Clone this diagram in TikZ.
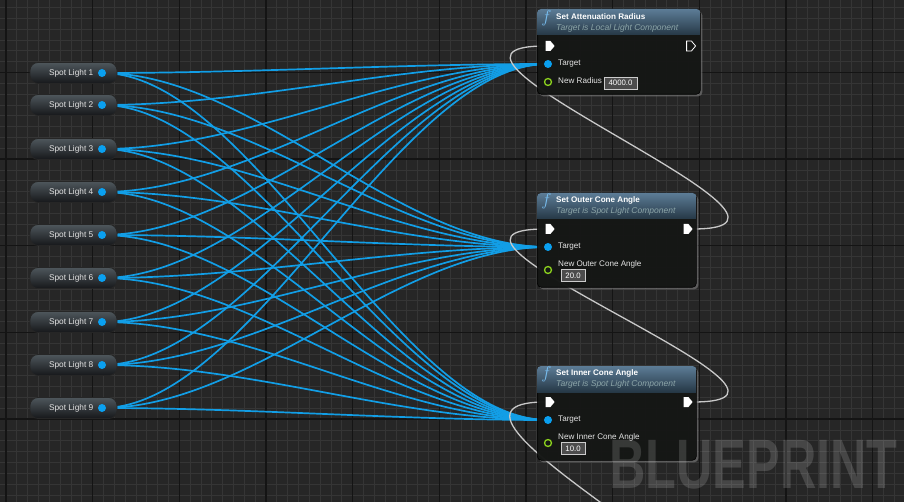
\documentclass[tikz,border=0pt]{standalone}
\usepackage{fontspec}
\setmainfont{Liberation Sans}
\usepackage{tikz}
\usetikzlibrary{shapes.symbols,shadows,positioning,calc}
\definecolor{gridbg}{RGB}{38,38,38}
\definecolor{gridminor}{RGB}{53,53,53}
\definecolor{gridmajor}{RGB}{20,20,20}
\definecolor{wireblue}{RGB}{18,158,230}
\definecolor{pinblue}{RGB}{10,160,240}
\definecolor{pingreen}{RGB}{140,210,30}
\definecolor{execwire}{RGB}{200,200,200}
\definecolor{bodycol}{RGB}{18,20,18}
\definecolor{hdtop}{RGB}{92,124,150}
\definecolor{hdbot}{RGB}{38,56,70}
\definecolor{subcol}{RGB}{140,165,168}
\definecolor{ficon}{RGB}{120,190,240}
\definecolor{sltop}{RGB}{78,86,92}
\definecolor{slmid}{RGB}{32,58,72}
\definecolor{slbot}{RGB}{22,24,26}
\definecolor{txtcol}{RGB}{228,228,228}
\pgfdeclarelayer{bg}
\pgfdeclarelayer{wires}
\pgfsetlayers{bg,wires,main}

\begin{document}
\begin{tikzpicture}[x=1pt, y=-1pt, >=latex,
		slbox/.style={rounded corners=8pt, draw=black!85, line width=0.8pt, top color=sltop, middle color=slmid, bottom color=slbot, minimum width=87pt, minimum height=21pt, inner sep=0pt},
		sltext/.style={anchor=east, text=txtcol, font=\fontsize{8.3}{9}\selectfont, inner sep=0pt},
		objpin/.style={circle, fill=pinblue, minimum size=8pt, inner sep=0pt},
		floatpin/.style={circle, draw=pingreen, line width=1.3pt, minimum size=7pt, inner sep=0pt},
		execpin/.style={signal, signal to=east, fill=white, minimum width=9pt, minimum height=10pt, inner sep=0pt, signal pointer angle=100},
		hollowpin/.style={execpin, fill=none, draw=white, line width=0.8pt},
		fnbody/.style={anchor=north west, rounded corners=4pt, fill=bodycol, fill opacity=0.95, draw=black, line width=0.6pt, inner sep=0pt, drop shadow={opacity=0.6, shadow xshift=2pt, shadow yshift=-2pt}},
		fntitle/.style={anchor=west, text=white, font=\fontsize{8.1}{9}\selectfont\bfseries, inner sep=0pt},
		fnsub/.style={anchor=west, text=subcol, font=\fontsize{8.5}{9}\selectfont\itshape, inner sep=0pt},
		ficon/.style={text=ficon, inner sep=0pt, font=\fontsize{16}{16}\selectfont},
		pintext/.style={anchor=west, text=txtcol, font=\fontsize{8.1}{9}\selectfont, inner sep=0pt},
		valbox/.style={draw=black!20, line width=0.7pt, fill=black!70, text=white, font=\fontsize{7.8}{8}\selectfont, inner sep=0pt, minimum height=12pt},
		datawire/.style={wireblue, line width=1.7pt},
		flowwire/.style={execwire, line width=1.3pt}]
			\useasboundingbox (0,0) rectangle (904,502);
			\begin{pgfonlayer}{bg}
				\fill[gridbg] (0,0) rectangle (904,502);
				\foreach \k in {-1,...,83} \draw[gridminor, line width=0.9pt] ({6+\k*10.8333},0) -- ++(0,502);
				\foreach \k in {0,...,48} \draw[gridminor, line width=0.9pt] (0,{-14.2+\k*10.8333}) -- ++(904,0);
				\foreach \k in {0,...,10} \draw[gridmajor, line width=1.3pt] ({6+\k*86.6667},0) -- ++(0,502);
				\foreach \k in {0,...,6} \draw[gridmajor, line width=1.3pt] (0,{-14.2+\k*86.6667}) -- ++(904,0);
			\end{pgfonlayer}

			\foreach \i/\y in {1/73,2/105,3/149,4/192,5/235,6/278,7/322,8/365,9/408} {
				\node[slbox] (sl\i) at (73.5,\y) {};
				\node[sltext] (sl\i-lbl) at (93.5,\y) {Spot Light \i};
				\node[objpin] (sl\i-pin) at (102,\y) {};
			}

			\node[fnbody, minimum width=163pt, minimum height=85pt] (radius) at (537,9) {};
			\node[fnbody, minimum width=159pt, minimum height=94pt] (outer) at (537,193) {};
			\node[fnbody, minimum width=159pt, minimum height=94pt] (inner) at (537,366) {};
			\foreach \nm in {radius,outer,inner} {
				\begin{scope}
					\clip[rounded corners=4pt] (\nm.north west) rectangle (\nm.south east);
					\shade[top color=hdtop, bottom color=hdbot] (\nm.north west) rectangle ($(\nm.north east)+(0,26)$);
				\end{scope}
			}

			\node[ficon] (radius-f) at (546.5,18) {$f$};
			\node[fntitle] (radius-ttl) at (556,17) {Set Attenuation Radius};
			\node[fnsub] (radius-sub) at (556,28.5) {Target is Local Light Component};
			\node[execpin] (radius-in) at (548,46) {};
			\node[hollowpin] (radius-out) at (689,46) {};
			\node[objpin] (radius-tgt) at (548,64) {};
			\node[pintext] (radius-tgt-lbl) at (558,64) {Target};
			\node[floatpin] (radius-val) at (548,82) {};
			\node[pintext] (radius-val-lbl) at (558,81) {New Radius};
			\node[valbox, minimum width=33pt] (radius-box) at (620.5,83) {4000.0};

			\node[ficon] (outer-f) at (546.5,201.5) {$f$};
			\node[fntitle] (outer-ttl) at (556,200.5) {Set Outer Cone Angle};
			\node[fnsub] (outer-sub) at (556,211.5) {Target is Spot Light Component};
			\node[execpin] (outer-in) at (548,229) {};
			\node[execpin] (outer-out) at (686,229) {};
			\node[objpin] (outer-tgt) at (548,247) {};
			\node[pintext] (outer-tgt-lbl) at (558,247) {Target};
			\node[floatpin] (outer-val) at (548,270) {};
			\node[pintext] (outer-val-lbl) at (558,264) {New Outer Cone Angle};
			\node[valbox, minimum width=24pt] (outer-box) at (573,275.5) {20.0};

			\node[ficon] (inner-f) at (546.5,374.5) {$f$};
			\node[fntitle] (inner-ttl) at (556,373.5) {Set Inner Cone Angle};
			\node[fnsub] (inner-sub) at (556,384.5) {Target is Spot Light Component};
			\node[execpin] (inner-in) at (548,402) {};
			\node[execpin] (inner-out) at (686,402) {};
			\node[objpin] (inner-tgt) at (548,420) {};
			\node[pintext] (inner-tgt-lbl) at (558,420) {Target};
			\node[floatpin] (inner-val) at (548,443) {};
			\node[pintext] (inner-val-lbl) at (558,437) {New Inner Cone Angle};
			\node[valbox, minimum width=24pt] (inner-box) at (573,448.5) {10.0};

			\coordinate (nextout) at (686,625);

			\begin{pgfonlayer}{wires}
				\clip (0,0) rectangle (904,502);
				\foreach \i in {1,...,9}
					\foreach \t in {radius,outer,inner}
						\draw[datawire] (sl\i-pin.center) .. controls +(150,0) and +(-150,0) .. (\t-tgt.center);
				\draw[flowwire] (outer-out.east) .. controls +(165,0) and +(-165,0) .. (radius-in.west);
				\draw[flowwire] (inner-out.east) .. controls +(165,0) and +(-165,0) .. (outer-in.west);
				\draw[flowwire] (nextout) .. controls +(165,0) and +(-165,0) .. (inner-in.west);
			\end{pgfonlayer}

			\node[text=white, text opacity=0.15, inner sep=0pt, font=\fontsize{70}{70}\selectfont\bfseries] (wmark) at (753.5,465) {\scalebox{0.72}[1]{BLUEPRINT}};
		\end{tikzpicture}
\end{document}
